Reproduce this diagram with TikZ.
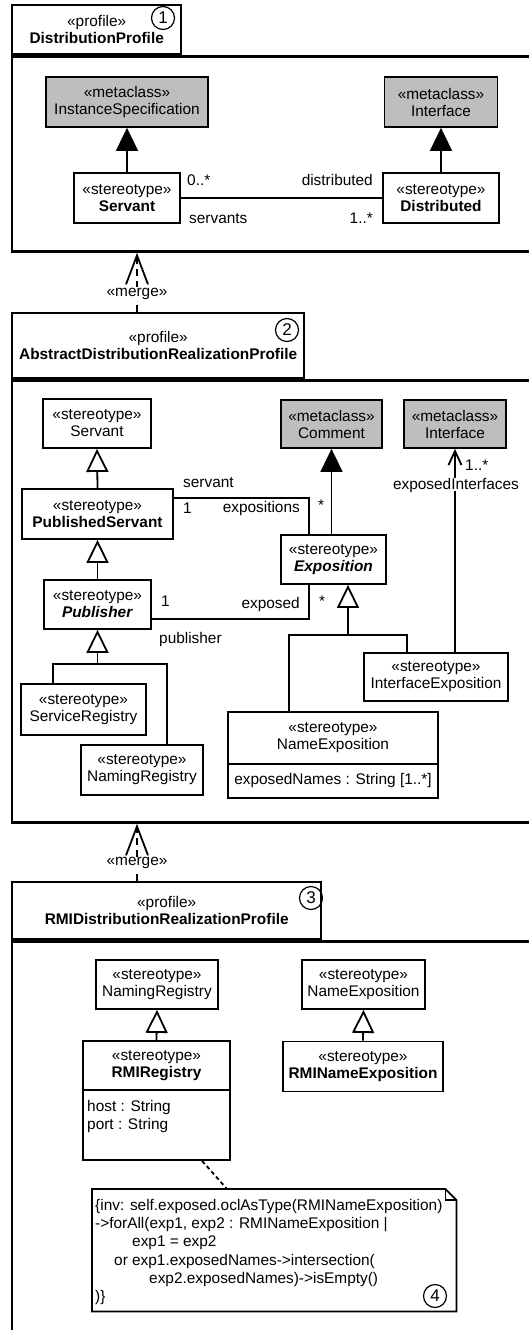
\documentclass[tikz,border=0pt]{standalone}
\usepackage{fontspec}
\setmainfont{Liberation Sans}
\usetikzlibrary{arrows.meta,positioning}
\definecolor{metaGray}{RGB}{190,190,190}
\newcommand{\umlfont}{\fontsize{15.4}{17}\selectfont}
\newcommand{\tagfont}{\fontsize{17}{17}\selectfont}

\begin{document}
\begin{tikzpicture}[x=1pt, y=-1pt,
    every node/.style={font=\umlfont},
    pkgLine/.style={draw, line width=2.4pt, inner sep=0pt, align=center},
    stereoBox/.style={draw, line width=1.8pt, fill=white, align=center, inner sep=0pt},
    metaBox/.style={stereoBox, fill=metaGray},
    lbl/.style={inner sep=0pt, text height=11pt, text depth=0pt},
    assoc/.style={line width=1.8pt},
    generalize/.style={line width=1.8pt, -{Triangle[open, length=23pt, width=22pt, fill=white]}},
    extendsMeta/.style={line width=1.8pt, -{Triangle[length=23pt, width=22pt]}},
    navig/.style={line width=1.8pt, -{Straight Barb[length=14pt, width=13pt]}},
    mergeDep/.style={line width=1.8pt, dash pattern=on 7pt off 5pt, -{Straight Barb[length=29pt, width=22pt]}},
    numTag/.style={circle, draw, line width=1.2pt, minimum size=23pt, inner sep=0pt, font=\tagfont},
  ]
    \useasboundingbox (0,0) rectangle (529,1330);
    \clip (0,0) rectangle (529,1330);

    % Package 1: DistributionProfile
    \node[pkgLine, anchor=north west, minimum width=169pt, minimum height=49pt] (pkgA) at (11,4) {«profile»\\\textbf{DistributionProfile}};
    \node[pkgLine, anchor=north west, minimum width=529pt, minimum height=195pt] (bodyA) at (pkgA.south west) {};
    \node[numTag] (tagA) at (163,18) {1};

    \node[metaBox, minimum width=162pt, minimum height=50pt] (instSpec) at (127,102) {«metaclass»\\InstanceSpecification};
    \node[metaBox, minimum width=113pt, minimum height=50pt] (ifaceA) at (441,102) {«metaclass»\\Interface};
    \node[stereoBox, minimum width=106pt, minimum height=50pt] (servantA) at (127,198) {«stereotype»\\\textbf{Servant}};
    \node[stereoBox, minimum width=116pt, minimum height=50pt] (distributed) at (441,198) {«stereotype»\\\textbf{Distributed}};

    \draw[extendsMeta] (servantA.north) -- (instSpec.south);
    \draw[extendsMeta] (distributed.north) -- (ifaceA.south);
    \draw[assoc] (servantA.east) -- (distributed.west);
    \node[lbl, anchor=west] (lblZeroMany) at (187,180) {0..*};
    \node[lbl, anchor=east] (lblDistributed) at (373,180) {distributed};
    \node[lbl, anchor=west] (lblServants) at (189,218) {servants};
    \node[lbl, anchor=east] (lblOneMany) at (373,218) {1..*};

    % Package 2: AbstractDistributionRealizationProfile
    \node[pkgLine, anchor=north west, minimum width=292pt, minimum height=65pt] (pkgB) at (11,312) {«profile»\\\textbf{AbstractDistributionRealizationProfile}};
    \node[pkgLine, anchor=north west, minimum width=529pt, minimum height=442pt] (bodyB) at (pkgB.south west) {};
    \node[numTag] (tagB) at (287,330) {2};

    \draw[mergeDep] ([xshift=126pt]pkgB.north west) -- ([xshift=126pt]bodyA.south west)
      node[pos=0.31, fill=white, inner sep=1pt] (mergeAB) {«merge»};

    \node[stereoBox, minimum width=108pt, minimum height=49pt] (servantB) at (97,423.5) {«stereotype»\\Servant};
    \node[stereoBox, minimum width=151pt, minimum height=50pt] (pubServant) at (97.5,514) {«stereotype»\\\textbf{PublishedServant}};
    \node[stereoBox, minimum width=107pt, minimum height=49pt] (publisher) at (97.5,604.5) {«stereotype»\\\textbf{\textit{Publisher}}};
    \node[stereoBox, minimum width=125pt, minimum height=51pt] (serviceReg) at (83.5,709.5) {«stereotype»\\ServiceRegistry};
    \node[stereoBox, minimum width=122pt, minimum height=50pt] (namingRegB) at (142,770) {«stereotype»\\NamingRegistry};
    \node[metaBox, minimum width=101pt, minimum height=48pt] (comment) at (331.5,424) {«metaclass»\\Comment};
    \node[metaBox, minimum width=102pt, minimum height=48pt] (ifaceB) at (455,424) {«metaclass»\\Interface};
    \node[stereoBox, minimum width=105pt, minimum height=49pt] (exposition) at (333.5,559.5) {«stereotype»\\\textbf{\textit{Exposition}}};
    \node[stereoBox, minimum width=144pt, minimum height=48pt] (ifaceExpo) at (436,677) {«stereotype»\\InterfaceExposition};
    \node[stereoBox, minimum width=210pt, minimum height=52pt] (nameExpoB) at (333,738) {«stereotype»\\NameExposition};
    \node[stereoBox, minimum width=210pt, minimum height=34pt, below=-1.8pt of nameExpoB] (nameExpoAttrB) {exposedNames : String [1..*]};

    % generalizations
    \draw[generalize] (pubServant.north) -- (servantB.south);
    \draw[generalize] (publisher.north) -- (pubServant.south);
    \coordinate (pubJoin) at (97.5,664);
    \coordinate (pubJoinL) at (53,664);
    \coordinate (pubJoinR) at (167,664);
    \draw[generalize] (pubJoin) -- (publisher.south);
    \draw[assoc] (serviceReg.north -| pubJoinL) -- (pubJoinL) -- (pubJoinR) -- (namingRegB.north -| pubJoinR);
    \coordinate (expoJoin) at (348,635);
    \coordinate (expoJoinL) at (289,635);
    \coordinate (expoJoinR) at (407,635);
    \draw[generalize] (expoJoin) -- (exposition.south -| expoJoin);
    \draw[assoc] (nameExpoB.north -| expoJoinL) -- (expoJoinL) -- (expoJoinR) -- (ifaceExpo.north -| expoJoinR);
    \draw[extendsMeta] (exposition.north -| comment) -- (comment.south);

    % associations
    \draw[assoc] ([yshift=16pt]pubServant.east) -| ([xshift=-24.5pt]exposition.north);
    \draw[assoc] ([yshift=-14.5pt]publisher.east) -| ([xshift=-24.5pt]exposition.south);
    \draw[navig] (ifaceExpo.north -| ifaceB) -- (ifaceB.south);
    \node[lbl, anchor=west] (lblServant) at (183,482) {servant};
    \node[lbl, anchor=west] (lblOneA) at (183,508) {1};
    \node[lbl, anchor=east] (lblExpositions) at (300,507) {expositions};
    \node[lbl, anchor=west] (lblStarA) at (318,505) {*};
    \node[lbl, anchor=west] (lblOneB) at (161,601) {1};
    \node[lbl, anchor=east] (lblExposed) at (300,603) {exposed};
    \node[lbl, anchor=west] (lblStarB) at (319,601) {*};
    \node[lbl, anchor=west] (lblPublisher) at (159,638) {publisher};
    \node[lbl, anchor=west] (lblMany) at (465,465) {1..*};
    \node[lbl, fill=white, inner sep=1pt] (lblExposedIf) at (456,484) {exposedInterfaces};

    % Package 3: RMIDistributionRealizationProfile
    \node[pkgLine, anchor=north west, minimum width=309pt, minimum height=57pt] (pkgC) at (11,881) {«profile»\\\textbf{RMIDistributionRealizationProfile}};
    \node[pkgLine, anchor=north west, minimum width=529pt, minimum height=390pt] (bodyC) at (pkgC.south west) {};
    \node[numTag] (tagC) at (311,898) {3};

    \draw[mergeDep] ([xshift=126pt]pkgC.north west) -- ([xshift=126pt]bodyB.south west)
      node[pos=0.31, fill=white, inner sep=1pt] (mergeBC) {«merge»};

    \node[stereoBox, minimum width=122pt, minimum height=49pt] (namingRegC) at (157,984.5) {«stereotype»\\NamingRegistry};
    \node[stereoBox, minimum width=123pt, minimum height=49pt] (nameExpoC) at (363.5,984.5) {«stereotype»\\NameExposition};
    \node[stereoBox, minimum width=147pt, minimum height=49pt] (rmiRegistry) at (156.5,1065.5) {«stereotype»\\\textbf{RMIRegistry}};
    \node[stereoBox, minimum width=147pt, minimum height=70pt, below=-1.8pt of rmiRegistry] (rmiAttrs) {};
    \node[inner sep=0pt, anchor=north west, align=left, font=\fontsize{15.4}{18}\selectfont] (rmiAttrText) at (87,1100) {host : String\\port : String};
    \node[stereoBox, minimum width=160pt, minimum height=50pt] (rmiNameExpo) at (363,1066.5) {«stereotype»\\\textbf{RMINameExposition}};

    \draw[generalize] (rmiRegistry.north) -- (namingRegC.south);
    \draw[generalize] (rmiNameExpo.north) -- (nameExpoC.south);

    % OCL constraint note
    \node[anchor=north west, minimum width=364pt, minimum height=122pt, inner sep=0pt] (note) at (92,1189) {};
    \draw[assoc] (note.north west) -- ([xshift=-11pt]note.north east) -- ([yshift=-11pt]note.north east)
      -- (note.south east) -- (note.south west) -- cycle;
    \draw[line width=1.2pt] ([xshift=-11pt]note.north east) |- ([yshift=-11pt]note.north east);
    \node[inner sep=0pt, anchor=north west, align=left, font=\fontsize{15.4}{18.3}\selectfont] (noteText) at (95,1199)
      {\{inv: self.exposed.oclAsType(RMINameExposition)\\
       ->forAll(exp1, exp2 : RMINameExposition |\\
       \hspace*{37pt}exp1 = exp2\\
       \hspace*{19pt}or exp1.exposedNames->intersection(\\
       \hspace*{54pt}exp2.exposedNames)->isEmpty()\\
       )\}};
    \node[numTag] (tagD) at (435,1296) {4};
    \draw[assoc, dash pattern=on 4pt off 3pt] ([xshift=120pt]rmiAttrs.south west) -- ([xshift=135pt]note.north west);
\end{tikzpicture}
\end{document}
